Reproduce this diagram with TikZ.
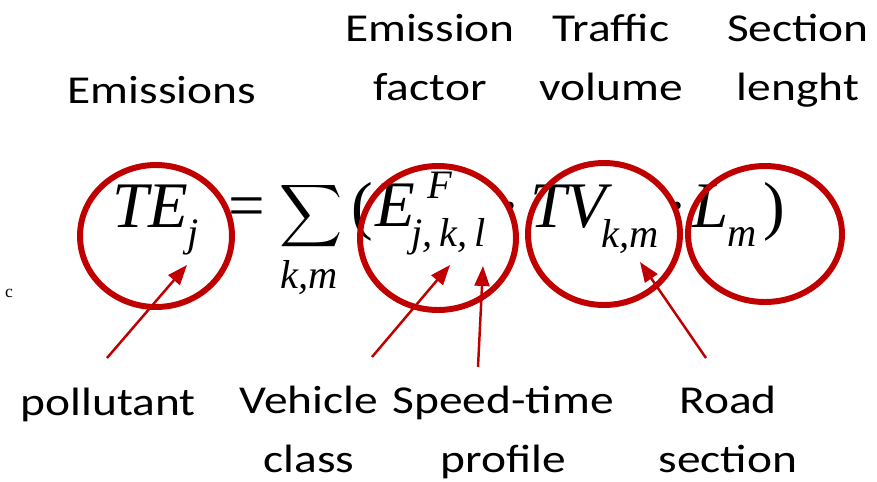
\documentclass[tikz,border=0pt]{standalone}
\usepackage[no-math]{fontspec}
\setmainfont{Carlito}[FakeStretch=1.2]
\newfontfamily\formfont{Liberation Serif}
\usepackage{amsmath}
\usetikzlibrary{arrows.meta, positioning}
\definecolor{ringred}{RGB}{192,0,0}
\tikzset{
  ring/.style={draw=ringred, line width=3.4pt},
  pointer/.style={draw=ringred, line width=1.4pt, ->},
  note/.style={font=\fontsize{22.5}{33.5}\selectfont, align=center, inner sep=0pt, anchor=base},
  sym/.style={font=\formfont\itshape\fontsize{37}{40}\selectfont, inner sep=0pt, anchor=base west},
  op/.style={font=\formfont\fontsize{37}{40}\selectfont, inner sep=0pt, anchor=base west},
  idx/.style={font=\formfont\itshape\fontsize{23}{26}\selectfont, inner sep=0pt, anchor=base west},
}

\begin{document}
\begin{tikzpicture}[>={Triangle[length=0.4cm, width=0.3cm]}, x=0.02cm, y=-0.02cm]
  \useasboundingbox[fill=white] (0,0) rectangle (877,481);
  % the formula, piece by piece
  \node[sym] (te) at (112,227) {TE};
  \node[idx] (te-j) at (187,246) {j};
  \node[op] (eq) at (228,227) {=};
  \node[inner sep=0pt, anchor=base, font=\fontsize{35}{40}\selectfont] (sum) at (311,227) {$\displaystyle\sum$};
  \node[idx, anchor=base] (sum-km) at (309,288) {k,m};
  \node[op] (lpar) at (351,227) {(};
  \node[sym] (ef) at (375,226) {E};
  \node[idx] (ef-F) at (427,198) {F};
  \node[idx] (ef-jkl) at (411,246) {j,\,k,\,l};
  \node[op, anchor=base] (dot1) at (510,227) {·};
  \node[sym] (tv) at (530,227) {TV};
  \node[idx] (tv-km) at (601,247) {k,m};
  \node[op, anchor=base] (dot2) at (677,227) {·};
  \node[sym] (len) at (692,227) {L};
  \node[idx] (len-m) at (727,246) {m};
  \node[op] (rpar) at (763,227) {)};
  \node[font=\formfont\fontsize{10}{11}\selectfont, inner sep=0pt] (stray) at (9,293) {c};
  % rings round the terms
  \draw[ring] (156,236) ellipse [x radius=76, y radius=71];
  \draw[ring] (438,238) ellipse [x radius=78, y radius=72];
  \draw[ring] (604,234) ellipse [x radius=76, y radius=71];
  \draw[ring] (765,234) ellipse [x radius=77, y radius=68];
  % what each term means
  \node[note] (emis) at (162,103) {Emissions};
  \node[note] (factor) at (430,100) {Emission\\factor};
  \node[note] (traffic) at (611,100) {Traffic\\volume};
  \node[note] (length) at (798,100) {Section\\lenght};
  \node[note] (pollut) at (108,415) {pollutant};
  \node[note] (vclass) at (309,472) {Vehicle\\class};
  \node[note] (speed) at (503,472) {Speed-time\\profile};
  \node[note] (road) at (728,472) {Road\\section};
  % pointers to the indices
  \coordinate (pollut-tail) at (107,358);
  \coordinate (pollut-tip) at (187,265);
  \coordinate (vclass-tail) at (372,357);
  \coordinate (vclass-tip) at (450,265);
  \coordinate (speed-tail) at (478,367);
  \coordinate (speed-tip) at (483,266);
  \coordinate (road-tail) at (706,358);
  \coordinate (road-tip) at (640,262);
  \draw[pointer] (pollut-tail) -- (pollut-tip);
  \draw[pointer] (vclass-tail) -- (vclass-tip);
  \draw[pointer] (speed-tail) -- (speed-tip);
  \draw[pointer] (road-tail) -- (road-tip);
\end{tikzpicture}
\end{document}
